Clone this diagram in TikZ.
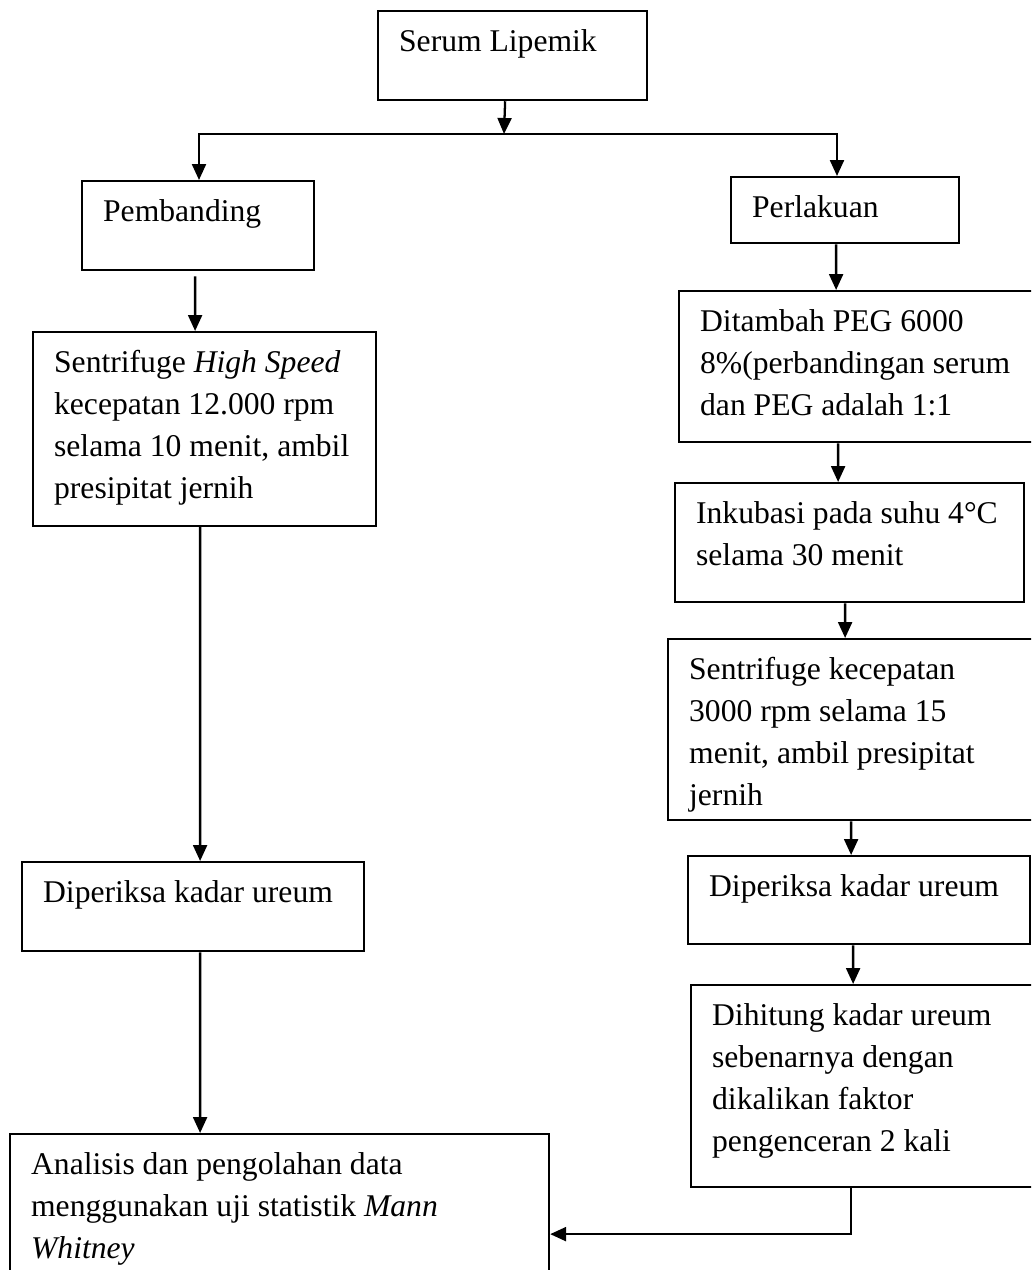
\documentclass[tikz,border=0pt]{standalone}
\usepackage{fontspec}
\setmainfont{Liberation Serif}
\usetikzlibrary{arrows.meta}

% box text: width, height, lines
\newcommand{\boxtext}[3]{\begin{minipage}[t][#2][t]{#1}\raggedright\strut #3\end{minipage}}

\begin{document}
\begin{tikzpicture}[x=0.02cm, y=-0.02cm,
    >={Triangle[length=0.32cm, width=0.28cm]},
    stepbox/.style={draw, line width=1.3pt, anchor=north west, inner xsep=0.42cm, inner ysep=0.208cm,
        font=\fontsize{18pt}{24pt}\selectfont},
    arrowline/.style={line width=1.3pt, ->}]
    \useasboundingbox (0,0) rectangle (1031,1270);
    \clip (0,0) rectangle (1031,1270);

    % Start and the two branches
    \node[stepbox] (serum) at (377,10) {\boxtext{4.54cm}{1.364cm}{Serum Lipemik}};
    \node[stepbox] (pemb) at (81,180) {\boxtext{3.80cm}{1.364cm}{Pembanding}};
    \node[stepbox] (perl) at (730,176) {\boxtext{3.72cm}{0.904cm}{Perlakuan}};

    % Left branch
    \node[stepbox] (shs) at (32,331) {\boxtext{6.02cm}{3.464cm}{Sentrifuge \textit{High Speed}\\
        kecepatan 12.000 rpm\\ selama 10 menit, ambil\\ presipitat jernih}};
    \node[stepbox] (dpL) at (21,861) {\boxtext{6.00cm}{1.364cm}{Diperiksa kadar ureum}};

    % Right branch
    \node[stepbox] (peg) at (678,290) {\boxtext{6.40cm}{2.604cm}{Ditambah PEG 6000\\
        8\%(perbandingan serum\\ dan PEG adalah 1:1}};
    \node[stepbox] (ink) at (674,482) {\boxtext{6.14cm}{1.964cm}{Inkubasi pada suhu 4°C\\ selama 30 menit}};
    \node[stepbox] (sk) at (667,638) {\boxtext{6.62cm}{3.204cm}{Sentrifuge kecepatan\\
        3000 rpm selama 15\\ menit, ambil presipitat\\ jernih}};
    \node[stepbox] (dpR) at (687,855) {\boxtext{6.00cm}{1.344cm}{Diperiksa kadar ureum}};
    \node[stepbox] (dht) at (690,984) {\boxtext{6.16cm}{3.624cm}{Dihitung kadar ureum\\
        sebenarnya dengan\\ dikalikan faktor\\ pengenceran 2 kali}};

    % End
    \node[stepbox] (ana) at (9,1133) {\boxtext{9.94cm}{2.524cm}{Analisis dan pengolahan data\\
        menggunakan uji statistik \textit{Mann}\\ \textit{Whitney}}};

    % Fork under the start box
    \coordinate (fork) at (504,134);
    \coordinate (forkL) at (199,134);
    \coordinate (forkR) at (837,134);
    \draw[arrowline] ([xshift=-0.15cm]serum.south) -- (fork);
    \draw[line width=1.3pt, <->] (forkL |- pemb.north) -- (forkL) -- (forkR) -- (forkR |- perl.north);

    % Left branch arrows
    \draw[arrowline] ([xshift=-0.06cm, yshift=-0.1cm]pemb.south) -- ([xshift=-0.19cm]shs.north);
    \draw[arrowline] ([xshift=-0.09cm]shs.south) -- ([xshift=0.14cm]dpL.north);
    \draw[arrowline] ([xshift=0.14cm]dpL.south) -- ([xshift=-1.59cm]ana.north);

    % Right branch arrows
    \draw[arrowline] ([xshift=-0.18cm]perl.south) -- ([xshift=-0.48cm]peg.north);
    \draw[arrowline] ([xshift=-0.44cm]peg.south) -- ([xshift=-0.23cm]ink.north);
    \draw[arrowline] ([xshift=-0.09cm]ink.south) -- ([xshift=-0.19cm]sk.north);
    \draw[arrowline] ([xshift=-0.07cm]sk.south) -- ([xshift=-0.16cm]dpR.north);
    \draw[arrowline] ([xshift=-0.12cm]dpR.south) -- ([xshift=-0.26cm]dht.north);
    \draw[arrowline] ([xshift=-0.30cm]dht.south) |- ([yshift=-0.53cm]ana.east);
\end{tikzpicture}
\end{document}
